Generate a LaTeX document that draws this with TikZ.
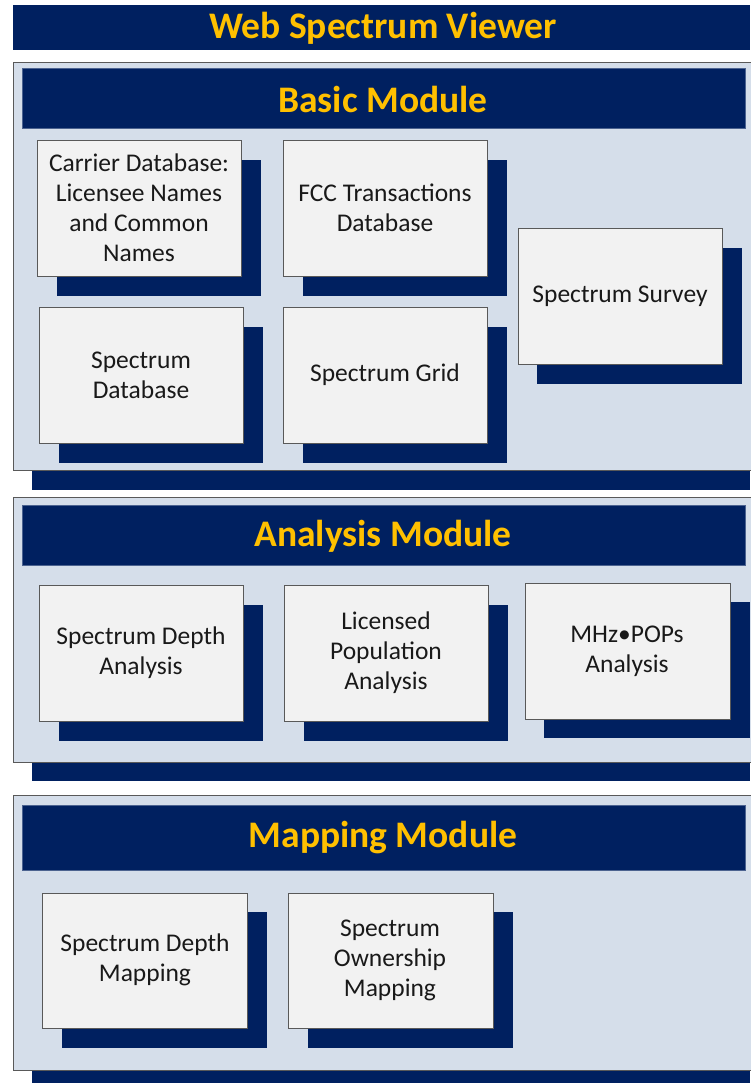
\documentclass[tikz,border=0pt]{standalone}
\usepackage{fontspec}
\setmainfont{Carlito}
\definecolor{navy}{HTML}{002060}
\definecolor{panelbg}{HTML}{D5DEEA}
\definecolor{boxbg}{HTML}{F2F2F2}
\definecolor{gold}{HTML}{FFC000}
\definecolor{edge}{HTML}{595959}
\begin{document}
\begin{tikzpicture}[x=1pt,y=-1pt,
  titletext/.style={text=gold,font=\fontsize{37.5}{40}\selectfont\bfseries},
  boxtext/.style={text=black!90,font=\fontsize{25.5}{30}\selectfont,align=center},
  panel/.style={fill=panelbg,draw=edge,line width=0.8pt},
  header/.style={fill=navy,draw=navy!70!white,line width=0.5pt},
  shadowbar/.style={fill=navy,draw=none},
  itembox/.style={fill=boxbg,draw=edge,line width=0.8pt}]
\useasboundingbox (0,0) rectangle (750,1083);
\fill[white] (0,0) rectangle (750,1083);
% title
\fill[navy] (13,5) rectangle (750,50);
\node[titletext] (title) at (383,28) {Web Spectrum Viewer};

% ---------- Basic module ----------
\fill[shadowbar] (32,82) rectangle (750,490);
\draw[panel] (13,62) rectangle (751,470);
\draw[header] (22,68) rectangle (745,128);
\node[titletext] (basic) at (383,99) {Basic Module};
% shadows
\fill[navy] (57,160) rectangle (261,296);
\fill[navy] (303,160) rectangle (507,296);
\fill[navy] (59,327) rectangle (263,463);
\fill[navy] (303,327) rectangle (507,463);
\fill[navy] (537,248) rectangle (742,384);
% boxes
\draw[itembox] (37,140) rectangle (241,276);
\node[boxtext] (carrier) at (139,208) {Carrier Database:\\Licensee Names\\and Common\\Names};
\draw[itembox] (283,140) rectangle (487,276);
\node[boxtext] (fcc) at (385,208) {FCC Transactions\\Database};
\draw[itembox] (39,307) rectangle (243,443);
\node[boxtext] (specdb) at (141,375) {Spectrum\\Database};
\draw[itembox] (283,307) rectangle (487,443);
\node[boxtext] (grid) at (385,375) {Spectrum Grid};
\draw[itembox] (518,228) rectangle (722,364);
\node[boxtext] (survey) at (620,296) {Spectrum Survey};

% ---------- Analysis module ----------
\fill[shadowbar] (32,517) rectangle (750,781);
\draw[panel] (13,497) rectangle (751,762);
\draw[header] (22,505) rectangle (745,565);
\node[titletext] (analysis) at (383,536) {Analysis Module};
\fill[navy] (59,605) rectangle (263,741);
\fill[navy] (304,605) rectangle (508,741);
\fill[navy] (544,602) rectangle (750,738);
\draw[itembox] (39,585) rectangle (243,721);
\node[boxtext] (depthA) at (141,653) {Spectrum Depth\\Analysis};
\draw[itembox] (284,585) rectangle (488,721);
\node[boxtext] (licpop) at (386,653) {Licensed\\Population\\Analysis};
\draw[itembox] (525,583) rectangle (730,719);
\node[boxtext] (mhz) at (627,651) {MHz•POPs\\Analysis};

% ---------- Mapping module ----------
\fill[shadowbar] (32,815) rectangle (750,1090);
\draw[panel] (13,795) rectangle (751,1070);
\draw[header] (22,805) rectangle (745,870);
\node[titletext] (mapping) at (383,838) {Mapping Module};
\fill[navy] (62,912) rectangle (267,1048);
\fill[navy] (308,912) rectangle (513,1048);
\draw[itembox] (42,893) rectangle (247,1028);
\node[boxtext] (depthM) at (145,960) {Spectrum Depth\\Mapping};
\draw[itembox] (288,893) rectangle (493,1028);
\node[boxtext] (owner) at (390,960) {Spectrum\\Ownership\\Mapping};
\end{tikzpicture}
\end{document}
